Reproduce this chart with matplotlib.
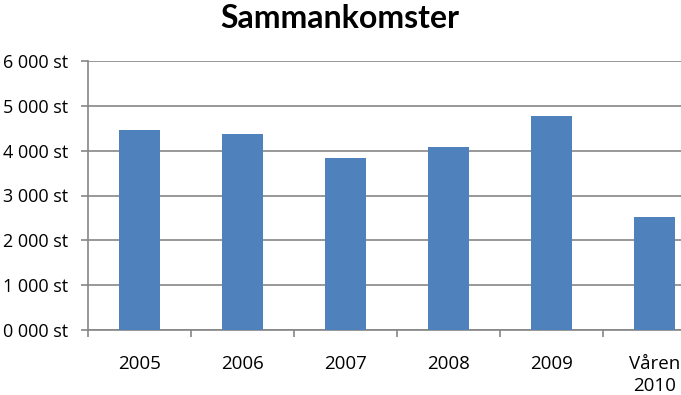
import matplotlib
matplotlib.use("Agg")
import matplotlib.pyplot as plt
import numpy as np
from matplotlib.ticker import FuncFormatter, FixedLocator

categories = ["2005", "2006", "2007", "2008", "2009", "Våren\n2010"]
values = [4465, 4375, 3840, 4085, 4780, 2525]
yticks = [0, 1000, 2000, 3000, 4000, 5000, 6000]

plt.rcParams['font.family'] = ['Open Sans', 'DejaVu Sans']

fig = plt.figure(figsize=(6.81, 3.95), dpi=100)
ax = fig.add_axes([88/681, 1-330/395, (706-88)/681, (330-61)/395])

x = np.arange(len(categories))
ax.bar(x, values, width=0.4, color="#4F81BD", zorder=3)

ax.set_xlim(-0.5, len(categories) - 0.5)
ax.set_ylim(0, 6000)
ax.set_yticks(yticks)
ax.yaxis.set_major_formatter(FuncFormatter(lambda v, p: f"{int(v)//1000} 000 st"))
ax.yaxis.grid(True, color="#868686", linewidth=1.2, zorder=0)
ax.tick_params(axis='y', length=5, width=1.2, color="#868686", pad=9, labelsize=13, labelcolor="black")

ax.set_xticks(x)
ax.set_xticklabels(categories, fontsize=13.5, linespacing=1.3)
ax.tick_params(axis='x', which='major', length=0, pad=18)
ax.xaxis.set_minor_locator(FixedLocator(np.arange(-0.5, len(categories), 1.0)))
ax.tick_params(axis='x', which='minor', length=5, width=1.2, color="#868686")

for s in ["top", "right"]:
    ax.spines[s].set_visible(False)
for s in ["left", "bottom"]:
    ax.spines[s].set_color("#868686")
    ax.spines[s].set_linewidth(1.2)

fig.text(340/681, 1-18/395, "Sammankomster", ha="center", va="center",
         fontsize=23, fontweight="bold", family=['Lato', 'DejaVu Sans'])

fig.savefig("out.png", dpi=100)
